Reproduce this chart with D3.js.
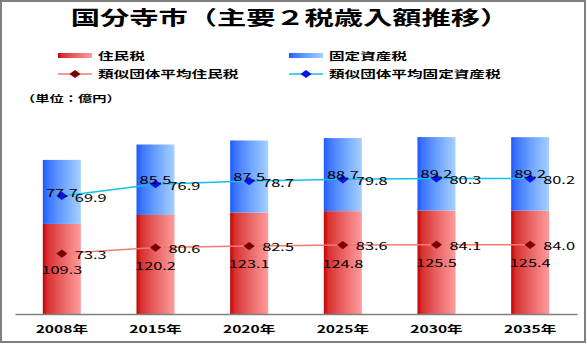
<!DOCTYPE html>
<html><head><meta charset="utf-8">
<script src="https://cdn.jsdelivr.net/npm/d3@7"></script>
<style>html,body{margin:0;padding:0;background:#fff;}svg{display:block;}</style>
</head><body>
<svg id="c" width="587" height="344"></svg>
<script>
const years = ["2008年","2015年","2020年","2025年","2030年","2035年"];
const juminzei = [109.3,120.2,123.1,124.8,125.5,125.4];
const koteiShisanzei = [77.7,85.5,87.5,88.7,89.2,89.2];
const avgJuminzei = [73.3,80.6,82.5,83.6,84.1,84.0];
const avgKoteiShisanzei = [69.9,76.9,78.7,79.8,80.3,80.2];
const seriesNames = ["住民税","固定資産税","類似団体平均住民税","類似団体平均固定資産税"];
const title = "国分寺市（主要２税歳入額推移）";
const unitLabel = "（単位：億円）";

const W = 587, H = 344;
const SX = 1.56;
const FONT = "'Noto Sans CJK JP','Noto Sans',sans-serif";
const svg = d3.select("#c");

const defs = svg.append("defs");
function grad(id, stops){
  const g = defs.append("linearGradient").attr("id", id).attr("x1","0").attr("x2","1").attr("y1","0").attr("y2","0");
  stops.forEach(s => g.append("stop").attr("offset", s[0]).attr("stop-color", s[1]));
}
grad("gRed", [["0%","#c40000"],["12%","#d83030"],["50%","#e96262"],["100%","#ff9c9c"]]);
grad("gBlue", [["0%","#1c58ff"],["12%","#3a72ff"],["50%","#6aa0ff"],["100%","#a6d0ff"]]);

function stext(x, y, str, o){
  o = o || {};
  return svg.append("text")
    .attr("transform", `translate(${x},${y}) scale(${o.sx||SX},1)`)
    .attr("text-anchor", o.anchor || "start")
    .attr("dominant-baseline", "central")
    .attr("font-family", FONT)
    .attr("font-size", o.size || 10)
    .attr("font-weight", o.weight || 400)
    .attr("fill", o.fill || "#000")
    .text(str);
}

// border
svg.append("rect").attr("x",1).attr("y",1).attr("width",W-3).attr("height",H-3)
  .attr("fill","none").attr("stroke","#808080").attr("stroke-width",2);

// title
stext(290, 16.5, title, {anchor:"middle", size:19.5, weight:700, sx:1.5});

// scales
const baseY = 314, topY = 108;
const x = d3.scaleBand().domain(years).range([15, 577]).paddingInner(0.594).paddingOuter(0.297);
const y = d3.scaleLinear().domain([0, 250]).range([baseY, topY]);
const y2 = d3.scaleLinear().domain([0, 122]).range([baseY, topY]);

const data = years.map((yr,i)=>({yr, a:juminzei[i], b:koteiShisanzei[i], c:avgJuminzei[i], d:avgKoteiShisanzei[i]}));

// bars
const bars = svg.append("g");
bars.selectAll("rect.r").data(data).join("rect")
  .attr("x", d=>x(d.yr)).attr("width", x.bandwidth())
  .attr("y", d=>y(d.a)).attr("height", d=>y(0)-y(d.a)).attr("fill","url(#gRed)");
bars.selectAll("rect.b").data(data).join("rect")
  .attr("x", d=>x(d.yr)).attr("width", x.bandwidth())
  .attr("y", d=>y(d.a+d.b)).attr("height", d=>y(d.a)-y(d.a+d.b)).attr("fill","url(#gBlue)");

// axis
const axis = svg.append("g").attr("transform",`translate(0,${baseY})`).call(d3.axisBottom(x).tickSize(0).tickPadding(0));
axis.select(".domain").attr("stroke","#808080").attr("stroke-width",1.5);
axis.selectAll(".tick text").remove();
data.forEach(d => stext(x(d.yr)+x.bandwidth()/2, 328.5, d.yr, {anchor:"middle", size:10, weight:700}));

const cx = d => x(d.yr)+x.bandwidth()/2;
const diamond = d3.symbol().type(d3.symbolSquare).size(34);

// lines
function drawLine(key, sc, lineColor, markColor){
  svg.append("path").datum(data)
    .attr("d", d3.line().x(cx).y(d=>sc(d[key])))
    .attr("fill","none").attr("stroke",lineColor).attr("stroke-width",1.5);
  svg.append("g").selectAll("path").data(data).join("path")
    .attr("d", diamond)
    .attr("transform", d=>`translate(${cx(d)},${sc(d[key])}) scale(1.35,1) rotate(45)`)
    .attr("fill", markColor);
}
drawLine("c", y, "#f47a72", "#7a0000");
drawLine("d", y2, "#10c0f0", "#0a14e8");

// labels
data.forEach(d=>{
  stext(cx(d), (y(0)+y(d.a))/2+0.5, d.a.toFixed(1), {anchor:"middle", size:10.5});
  stext(cx(d), (y(d.a)+y(d.a+d.b))/2, d.b.toFixed(1), {anchor:"middle", size:10.5});
  stext(cx(d)+13, y(d.c)+0.5, d.c.toFixed(1), {size:10.5});
  stext(cx(d)+13, y2(d.d)+1, d.d.toFixed(1), {size:10.5});
});

// legend
svg.append("rect").attr("x",58).attr("y",53).attr("width",34).attr("height",5).attr("fill","url(#gRed)");
svg.append("rect").attr("x",289).attr("y",53).attr("width",34).attr("height",5).attr("fill","url(#gBlue)");
stext(98, 56, seriesNames[0], {size:10, weight:700});
stext(329, 56, seriesNames[1], {size:10, weight:700});
function legLine(x0, yy, lc, mc){
  svg.append("line").attr("x1",x0).attr("x2",x0+34).attr("y1",yy).attr("y2",yy).attr("stroke",lc).attr("stroke-width",1.5);
  svg.append("path").attr("d",diamond).attr("transform",`translate(${x0+17},${yy}) scale(1.35,1) rotate(45)`).attr("fill",mc);
}
legLine(58, 74, "#f47a72", "#7a0000");
legLine(289, 74, "#10c0f0", "#0a14e8");
stext(98, 74, seriesNames[2], {size:10, weight:700});
stext(329, 74, seriesNames[3], {size:10, weight:700});

stext(21, 98, unitLabel, {size:9.5, weight:700, sx:1.5});
</script>
</body></html>
